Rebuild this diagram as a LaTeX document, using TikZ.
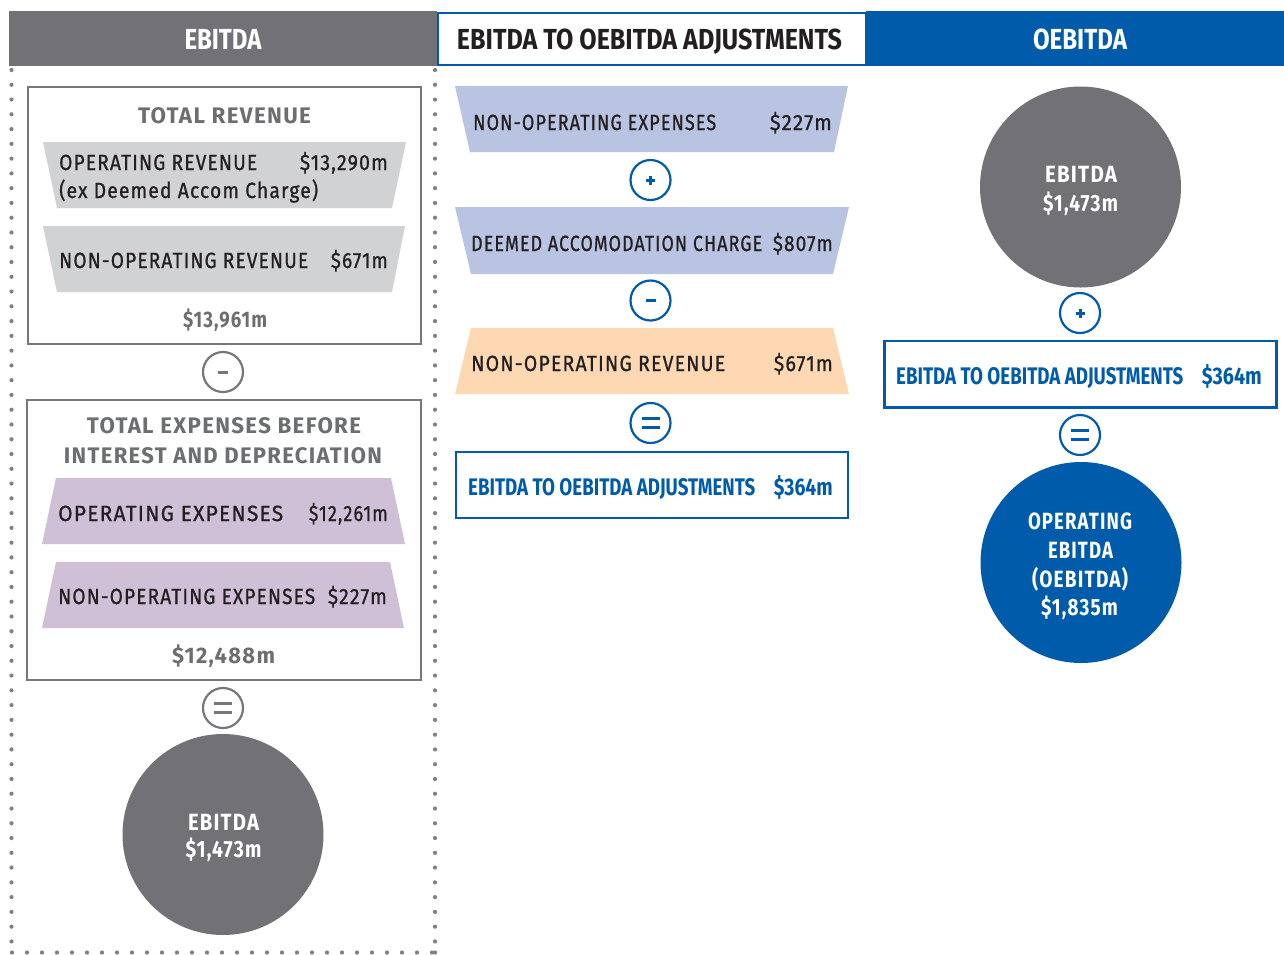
\documentclass[tikz,border=0pt]{standalone}
\usepackage{fontspec}
\usepackage{graphicx}
\setmainfont{Fira Sans}
\newfontfamily\spc[LetterSpace=6]{Fira Sans}
\newfontfamily\spm[LetterSpace=6,FakeBold=0.9]{Fira Sans}
\newcommand{\fw}[2]{\resizebox{#1pt}{\height}{#2}}
\definecolor{hgray}{HTML}{727176}
\definecolor{oblue}{HTML}{005CAA}
\definecolor{ink}{HTML}{231F20}
\definecolor{tgray}{HTML}{6D6E71}
\definecolor{bgray}{HTML}{77777B}
\definecolor{dotc}{HTML}{808084}
\definecolor{ltgray}{HTML}{D1D2D4}
\definecolor{lilac}{HTML}{CFC0D7}
\definecolor{lav}{HTML}{B9C4E2}
\definecolor{peach}{HTML}{FDD8B3}
\tikzset{
  lbl/.style={inner sep=0, text=ink, font=\spm\fontsize{22pt}{26pt}\selectfont},
  gt/.style={inner sep=0, text=tgray, font=\spc\bfseries\fontsize{22.5pt}{27pt}\selectfont},
  hd/.style={inner sep=0, font=\bfseries\fontsize{29pt}{34pt}\selectfont},
  bl/.style={inner sep=0, text=oblue, font=\bfseries\fontsize{24pt}{28pt}\selectfont},
  ct/.style={inner sep=0, text=white, font=\spc\bfseries\fontsize{23.5pt}{28pt}\selectfont},
  opc/.style={circle, draw=#1, line width=2.2pt, minimum size=40pt, inner sep=0, fill=white},
  bar/.style={line width=3pt, draw=#1},
  bigc/.style={circle, fill=#1, minimum size=201pt, inner sep=0},
}
\begin{document}
\begin{tikzpicture}[x=1pt,y=-1pt]
\useasboundingbox (0,0) rectangle (1284,954);
% headers
\fill[hgray] (9,11) rectangle (437,66);
\fill[oblue] (866,11) rectangle (1284,66);
\draw[oblue, line width=2pt] (438,12.5) rectangle (866,64.5);
\node[hd, text=white, anchor=base] (h1) at (223,49) {\fw{77}{EBITDA}};
\node[hd, text=ink, anchor=base] (h2) at (649.5,49) {\fw{385}{EBITDA TO OEBITDA ADJUSTMENTS}};
\node[hd, text=white, anchor=base] (h3) at (1080,49) {\fw{94}{OEBITDA}};
% dotted frame
\foreach \i in {0,...,59} {
  \fill[dotc] (11.5,{70+\i*14.77}) circle (2.1);
  \fill[dotc] (435,{70+\i*14.77}) circle (2.1);
}
\foreach \i in {0,...,28} \fill[dotc] ({12+\i*15},952.5) circle (2.1);
\fill[dotc] (435,952.5) circle (2.1);
% ---------- left column
\draw[bgray, line width=2.5pt] (28,87) rectangle (421,344);
\node[gt, anchor=base] (trt) at (224.5,123) {\fw{173}{TOTAL REVENUE}};
\fill[ltgray] (43,142) -- (406,142) -- (392,208) -- (57,208) -- cycle;
\node[lbl, anchor=base west] (oprev) at (59,170) {\fw{198}{OPERATING REVENUE}};
\node[lbl, anchor=base east] (oprevv) at (388,170) {\fw{88}{\$13,290m}};
\node[lbl, anchor=base west] (exd) at (59,198) {\fw{259}{(ex Deemed Accom Charge)}};
\fill[ltgray] (43,226) -- (405,226) -- (392,292) -- (57,292) -- cycle;
\node[lbl, anchor=base west] (noprev) at (59,268) {\fw{249}{NON-OPERATING REVENUE}};
\node[lbl, anchor=base east] (noprevv) at (388,268) {\fw{57}{\$671m}};
\node[gt, anchor=base] (trv) at (225,327) {\fw{84}{\$13,961m}};
\node[opc=bgray] (lminus) at (223,372) {};
\draw[bar=bgray] ([xshift=-5pt]lminus.center) -- ([xshift=5pt]lminus.center);
\draw[bgray, line width=2.5pt] (27,400) rectangle (421,680);
\node[gt, anchor=base] (tet1) at (224,433) {\fw{274}{TOTAL EXPENSES BEFORE}};
\node[gt, anchor=base] (tet2) at (223,463) {\fw{318}{INTEREST AND DEPRECIATION}};
\fill[lilac] (56,478) -- (391,478) -- (405,544) -- (42,544) -- cycle;
\node[lbl, anchor=base west] (opex) at (58,521) {\fw{225}{OPERATING EXPENSES}};
\node[lbl, anchor=base east] (opexv) at (388,521) {\fw{79}{\$12,261m}};
\fill[lilac] (56,562) -- (390,562) -- (404,628) -- (42,628) -- cycle;
\node[lbl, anchor=base west] (nopex) at (58,604) {\fw{257}{NON-OPERATING EXPENSES}};
\node[lbl, anchor=base east] (nopexv) at (387,604) {\fw{59}{\$227m}};
\node[gt, anchor=base] (tev) at (223.5,663) {\fw{103}{\$12,488m}};
\node[opc=bgray] (leq) at (223,708) {};
\draw[bar=bgray, line width=2.5pt] ([xshift=-9pt,yshift=4.5pt]leq.center) -- ([xshift=9pt,yshift=4.5pt]leq.center);
\draw[bar=bgray, line width=2.5pt] ([xshift=-9pt,yshift=-4.5pt]leq.center) -- ([xshift=9pt,yshift=-4.5pt]leq.center);
\node[bigc=hgray] (lebitda) at (223,834.5) {};
\node[ct, anchor=base] (le1) at (223.5,830) {\fw{71}{EBITDA}};
\node[ct, anchor=base] (le2) at (223.5,857) {\fw{76}{\$1,473m}};
% ---------- middle column
\fill[lav] (455,86) -- (848,86) -- (834,152) -- (470,152) -- cycle;
\node[lbl, anchor=base west] (mnopex) at (473,130) {\fw{243}{NON-OPERATING EXPENSES}};
\node[lbl, anchor=base east] (mnopexv) at (832,130) {\fw{62}{\$227m}};
\node[opc=oblue] (mplus) at (650.5,180) {};
\draw[bar=oblue] ([xshift=-4.5pt]mplus.center) -- ([xshift=4.5pt]mplus.center);
\draw[bar=oblue] ([yshift=-4.5pt]mplus.center) -- ([yshift=4.5pt]mplus.center);
\fill[lav] (455,207) -- (849,207) -- (833,274) -- (471,274) -- cycle;
\node[lbl, anchor=base west] (dac) at (471,251) {\fw{291}{DEEMED ACCOMODATION CHARGE}};
\node[lbl, anchor=base east] (dacv) at (833,251) {\fw{60}{\$807m}};
\node[opc=oblue] (mminus) at (650.5,300.5) {};
\draw[bar=oblue] ([xshift=-5pt]mminus.center) -- ([xshift=5pt]mminus.center);
\fill[peach] (471,328) -- (833,328) -- (849,394) -- (455,394) -- cycle;
\node[lbl, anchor=base west] (mnoprev) at (471,371) {\fw{254}{NON-OPERATING REVENUE}};
\node[lbl, anchor=base east] (mnoprevv) at (833,371) {\fw{59}{\$671m}};
\node[opc=oblue] (meq) at (650.5,423) {};
\draw[bar=oblue, line width=2.5pt] ([xshift=-9pt,yshift=4.5pt]meq.center) -- ([xshift=9pt,yshift=4.5pt]meq.center);
\draw[bar=oblue, line width=2.5pt] ([xshift=-9pt,yshift=-4.5pt]meq.center) -- ([xshift=9pt,yshift=-4.5pt]meq.center);
\draw[oblue, line width=2.2pt] (456,452) rectangle (848,518);
\node[bl, anchor=base west] (madj) at (468,495) {\fw{287}{EBITDA TO OEBITDA ADJUSTMENTS}};
\node[bl, anchor=base east] (madjv) at (833,495) {\fw{59}{\$364m}};
% ---------- right column
\node[bigc=hgray] (rebitda) at (1080.5,187) {};
\node[ct, anchor=base] (re1) at (1081,182) {\fw{72}{EBITDA}};
\node[ct, anchor=base] (re2) at (1080.5,211) {\fw{75}{\$1,473m}};
\node[opc=oblue] (rplus) at (1080,313) {};
\draw[bar=oblue] ([xshift=-4.5pt]rplus.center) -- ([xshift=4.5pt]rplus.center);
\draw[bar=oblue] ([yshift=-4.5pt]rplus.center) -- ([yshift=4.5pt]rplus.center);
\draw[oblue, line width=2.2pt] (884.5,341) rectangle (1276.5,407.5);
\node[bl, anchor=base west] (radj) at (896,384) {\fw{287}{EBITDA TO OEBITDA ADJUSTMENTS}};
\node[bl, anchor=base east] (radjv) at (1262,384) {\fw{60}{\$364m}};
\node[opc=oblue] (req) at (1080,435) {};
\draw[bar=oblue, line width=2.5pt] ([xshift=-9pt,yshift=4.5pt]req.center) -- ([xshift=9pt,yshift=4.5pt]req.center);
\draw[bar=oblue, line width=2.5pt] ([xshift=-9pt,yshift=-4.5pt]req.center) -- ([xshift=9pt,yshift=-4.5pt]req.center);
\node[bigc=oblue] (roe) at (1081,562.5) {};
\node[ct, anchor=base] (ro1) at (1080,529) {\fw{104}{OPERATING}};
\node[ct, anchor=base] (ro2) at (1080.5,558) {\fw{65}{EBITDA}};
\node[ct, anchor=base] (ro3) at (1080,587) {\fw{96}{(OEBITDA)}};
\node[ct, anchor=base] (ro4) at (1079.5,615) {\fw{77}{\$1,835m}};
\end{tikzpicture}
\end{document}
